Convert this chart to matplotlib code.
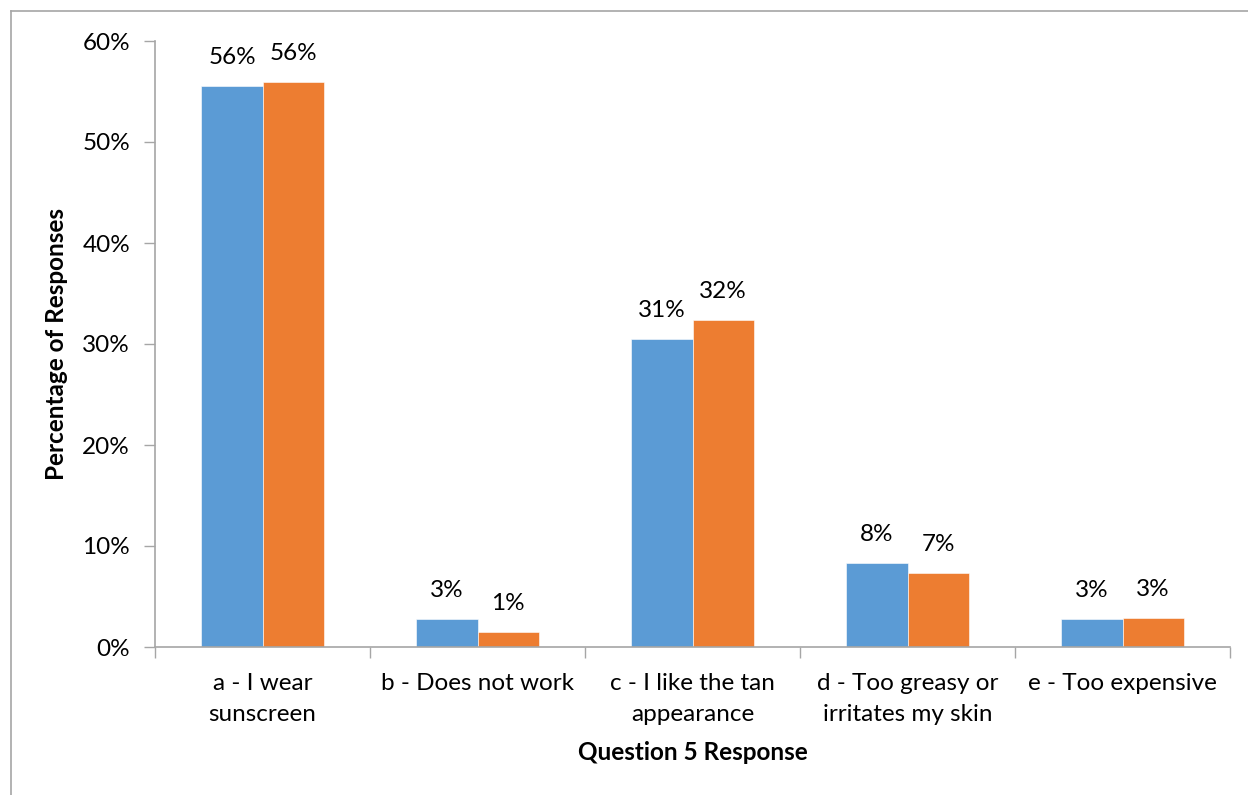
import matplotlib
matplotlib.use("Agg")
import matplotlib.pyplot as plt
from matplotlib.lines import Line2D
import numpy as np

categories = ["a - I wear\nsunscreen", "b - Does not work", "c - I like the tan\nappearance",
              "d - Too greasy or\nirritates my skin", "e - Too expensive"]
series_1 = [55.5, 2.8, 30.5, 8.3, 2.8]
series_2 = [55.9, 1.5, 32.4, 7.3, 2.9]
label_1 = ["56%", "3%", "31%", "8%", "3%"]
label_2 = ["56%", "1%", "32%", "7%", "3%"]
y_ticks = [0, 10, 20, 30, 40, 50, 60]

plt.rcParams['font.family'] = ['Lato', 'DejaVu Sans']

fig = plt.figure(figsize=(12.48, 7.95), dpi=100)
ax = fig.add_axes([155/1248, 1 - 647/795, (1230-155)/1248, (647-41)/795])

# outer chart border (top and left edges)
fig.add_artist(Line2D([11/1248, 11/1248], [0, 1 - 11/795], transform=fig.transFigure,
                      color="#a6a6a6", lw=1.2))
fig.add_artist(Line2D([11/1248, 1], [1 - 11/795, 1 - 11/795], transform=fig.transFigure,
                      color="#a6a6a6", lw=1.2))

blue = "#5b9bd5"
orange = "#ed7d31"
x = np.arange(len(categories))
w = 0.284
b1 = ax.bar(x - w/2, series_1, w, color=blue, edgecolor="white", linewidth=0.4)
b2 = ax.bar(x + w/2, series_2, w, color=orange, edgecolor="white", linewidth=0.4)

for rects, labels in ((b1, label_1), (b2, label_2)):
    for r, t in zip(rects, labels):
        ax.annotate(t, (r.get_x() + r.get_width()/2, r.get_height()),
                    xytext=(0, 13), textcoords="offset points",
                    ha="center", va="bottom", fontsize=17.5, color="#000000")

ax.set_xlim(-0.5, len(categories) - 0.5)
ax.set_ylim(0, 60)
ax.set_yticks(y_ticks)
ax.set_yticklabels([f"{v}%" for v in y_ticks], fontsize=17.5)
ax.tick_params(axis="y", length=8, width=1, color="#a6a6a6", pad=10)

ax.set_xticks(x)
ax.set_xticklabels(categories, fontsize=17.5, linespacing=1.55)
ax.tick_params(axis="x", length=0, pad=19)
ax.set_xticks(np.arange(-0.5, len(categories)), minor=True)
ax.tick_params(axis="x", which="minor", length=8, width=1, color="#a6a6a6")

for s in ("top", "right"):
    ax.spines[s].set_visible(False)
for s in ("left", "bottom"):
    ax.spines[s].set_color("#a6a6a6")
    ax.spines[s].set_linewidth(1.2)

ax.set_ylabel("Percentage of Responses", fontsize=17.5, fontweight="bold", labelpad=10)
ax.set_xlabel("Question 5 Response", fontsize=17.5, fontweight="bold", labelpad=12)

fig.savefig("out.png", dpi=100, facecolor="white")
